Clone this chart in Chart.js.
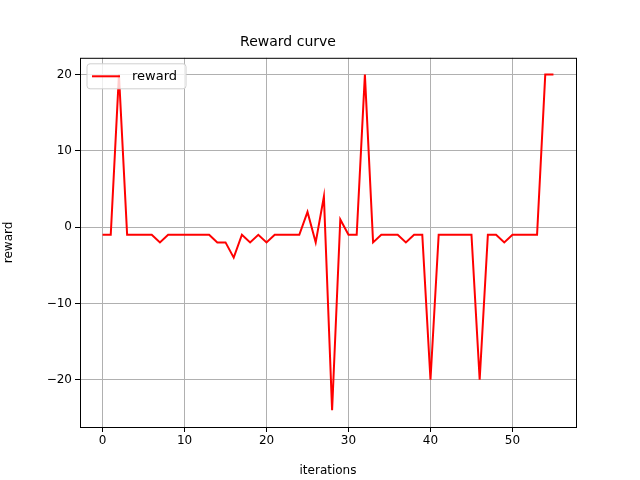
<!DOCTYPE html>
<html>
<head>
<meta charset="utf-8">
<script src="https://cdn.jsdelivr.net/npm/chart.js@4"></script>
<style>
  body { margin: 0; background: #fff; }
  #wrap { width: 640px; height: 480px; }
</style>
</head>
<body>
<div id="wrap"><canvas id="rewardChart"></canvas></div>
<script>
const rewards = [-1, -1, 20, -1, -1, -1, -1, -2, -1, -1, -1, -1, -1, -1, -2, -2, -4, -1, -2, -1,
                 -2, -1, -1, -1, -1, 2, -2, 4, -24, 1, -1, -1, 20, -2, -1, -1, -1, -2, -1, -1,
                 -20, -1, -1, -1, -1, -1, -20, -1, -1, -2, -1, -1, -1, -1, 20, 20];
const xTicks = [0, 10, 20, 30, 40, 50];
const yTicks = [-20, -10, 0, 10, 20];

const points = rewards.map((v, i) => ({ x: i, y: v }));
const font = { family: 'DejaVu Sans', size: 12 };

const frameAndLegend = {
    id: 'frameAndLegend',
    afterDraw(chart) {
        const { ctx, chartArea: a } = chart;
        ctx.save();
        ctx.strokeStyle = '#000';
        ctx.lineWidth = 1;
        ctx.strokeRect(a.left + 0.5, a.top + 0.5, a.right - a.left, a.bottom - a.top);
        // legend box, upper left
        const x = a.left + 7, y = a.top + 6;
        ctx.fillStyle = 'rgba(255,255,255,0.8)';
        ctx.strokeStyle = '#d0d0d0';
        ctx.beginPath();
        ctx.roundRect(x, y, 99, 25, 3);
        ctx.fill();
        ctx.stroke();
        ctx.strokeStyle = 'red';
        ctx.lineWidth = 2;
        ctx.beginPath();
        ctx.moveTo(x + 5, y + 12.5);
        ctx.lineTo(x + 33, y + 12.5);
        ctx.stroke();
        ctx.fillStyle = '#000';
        ctx.font = '13px "DejaVu Sans"';
        ctx.textBaseline = 'middle';
        ctx.fillText('reward', x + 45, y + 13);
        ctx.restore();
    }
};

new Chart(document.getElementById('rewardChart'), {
    type: 'line',
    data: {
        datasets: [{
            label: 'reward',
            data: points,
            borderColor: 'red',
            borderWidth: 2,
            pointRadius: 0,
            tension: 0,
            fill: false
        }]
    },
    options: {
        responsive: true,
        maintainAspectRatio: false,
        animation: false,
        layout: { padding: { left: 0, right: 64, top: 0, bottom: 0 } },
        scales: {
            x: {
                type: 'linear',
                min: -2.75,
                max: 57.75,
                afterBuildTicks: s => { s.ticks = xTicks.map(v => ({ value: v })); },
                afterFit: s => { s.height = 53; },
                grid: { color: '#b0b0b0', tickColor: '#000', tickLength: 5 },
                border: { display: false },
                ticks: { color: '#000', font, padding: 2, maxRotation: 0 },
                title: { display: true, text: 'iterations', color: '#000', font, padding: 2 }
            },
            y: {
                min: -26.2,
                max: 22.2,
                afterBuildTicks: s => { s.ticks = yTicks.map(v => ({ value: v })); },
                afterFit: s => { s.width = 80; },
                grid: { color: '#b0b0b0', tickColor: '#000', tickLength: 5 },
                border: { display: false },
                ticks: { color: '#000', font, padding: 3,
                         callback: v => v < 0 ? '\u2212' + Math.abs(v) : String(v) },
                title: { display: true, text: 'reward', color: '#000', font, padding: 2 }
            }
        },
        plugins: {
            legend: { display: false },
            tooltip: { enabled: false },
            title: {
                display: true,
                text: 'Reward curve',
                color: '#000',
                font: { family: 'DejaVu Sans', size: 14, weight: 'normal' },
                padding: { top: 34, bottom: 7 }
            }
        }
    },
    plugins: [frameAndLegend]
});
</script>
</body>
</html>
